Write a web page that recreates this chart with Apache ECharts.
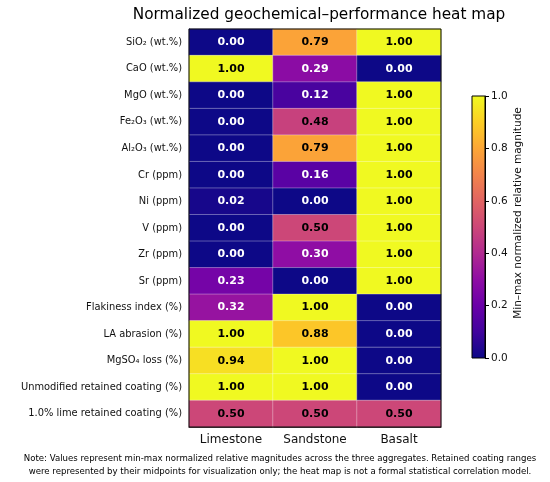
<!DOCTYPE html>
<html>
<head>
<meta charset="utf-8">
<script src="https://cdn.jsdelivr.net/npm/echarts@6/dist/echarts.min.js"></script>
<style>
html,body{margin:0;padding:0;background:#fff;}
#chart{width:550px;height:482px;}
</style>
</head>
<body>
<div id="chart"></div>
<script>
// aggregates (columns)
var aggregates = ["Limestone", "Sandstone", "Basalt"];
// properties (rows, top to bottom)
var properties = [
	"SiO₂ (wt.%)", "CaO (wt.%)", "MgO (wt.%)", "Fe₂O₃ (wt.%)", "Al₂O₃ (wt.%)",
	"Cr (ppm)", "Ni (ppm)", "V (ppm)", "Zr (ppm)", "Sr (ppm)",
	"Flakiness index (%)", "LA abrasion (%)", "MgSO₄ loss (%)",
	"Unmodified retained coating (%)", "1.0% lime retained coating (%)"
];
// normalized values per aggregate, same order as properties
var limestone = [0.00, 1.00, 0.00, 0.00, 0.00, 0.00, 0.02, 0.00, 0.00, 0.23, 0.32, 1.00, 0.94, 1.00, 0.50];
var sandstone = [0.79, 0.29, 0.12, 0.48, 0.79, 0.16, 0.00, 0.50, 0.30, 0.00, 1.00, 0.88, 1.00, 1.00, 0.50];
var basalt    = [1.00, 0.00, 1.00, 1.00, 1.00, 1.00, 1.00, 1.00, 1.00, 1.00, 0.00, 0.00, 0.00, 0.00, 0.50];
var colorbarTicks = [0.0, 0.2, 0.4, 0.6, 0.8, 1.0];

// plasma colormap
var plasma = ["#0d0887","#41049d","#6a00a8","#8f0da4","#b12a90","#cc4778","#e16462","#f2844b","#fca636","#fcce25","#f0f921"];

var columns = [limestone, sandstone, basalt];
var cells = [];
for (var c = 0; c < columns.length; c++) {
	for (var r = 0; r < properties.length; r++) {
		var v = columns[c][r];
		cells.push({
			value: [c, r, v],
			label: { color: v < 0.4 ? "#ffffff" : "#000000" }
		});
	}
}

// gradient for the colour bar (bottom = 0, top = 1)
var stops = [];
for (var i = 0; i < plasma.length; i++) {
	stops.push({ offset: 1 - i / (plasma.length - 1), color: plasma[i] });
}

var font = "DejaVu Sans";
var myChart = echarts.init(document.getElementById("chart"));
var option = {
	animation: false,
	backgroundColor: "#ffffff",
	textStyle: { fontFamily: font },
	title: [{
		text: "Normalized geochemical–performance heat map",
		left: 314, top: 3, textAlign: "center",
		textStyle: { fontFamily: font, fontSize: 15.3, fontWeight: "normal", color: "#000" }
	}, {
		text: "Note: Values represent min-max normalized relative magnitudes across the three aggregates. Retained coating ranges\nwere represented by their midpoints for visualization only; the heat map is not a formal statistical correlation model.",
		left: 275, top: 447, textAlign: "center",
		textStyle: { fontFamily: font, fontSize: 8.6, fontWeight: "normal", color: "#000", lineHeight: 13 }
	}],
	visualMap: {
		show: false, min: 0, max: 1, dimension: 2, seriesIndex: 0,
		inRange: { color: plasma }
	},
	grid: [
		{ left: 189, top: 29, width: 252, height: 398, show: true, borderColor: "#000", borderWidth: 1, z: 5 },
		{ left: 472, top: 96, width: 13, height: 262, show: true, borderColor: "#000", borderWidth: 1, z: 5 }
	],
	xAxis: [{
		gridIndex: 0, type: "category", data: aggregates,
		axisLine: { lineStyle: { color: "#000" } },
		axisTick: { alignWithLabel: true, length: 4, lineStyle: { color: "#000" } },
		axisLabel: { color: "#111", fontSize: 12, margin: 7, fontFamily: font, interval: 0 },
		splitLine: { show: false }
	}, {
		gridIndex: 1, type: "category", data: [""],
		axisLine: { show: false }, axisTick: { show: false }, axisLabel: { show: false }
	}],
	yAxis: [{
		gridIndex: 0, type: "category", data: properties, inverse: true,
		axisLine: { lineStyle: { color: "#000" } },
		axisTick: { alignWithLabel: true, length: 4, lineStyle: { color: "#000" } },
		axisLabel: { color: "#111", fontSize: 9.9, margin: 7, fontFamily: font, interval: 0 },
		splitLine: { show: false }
	}, {
		gridIndex: 1, type: "value", min: 0, max: 1, interval: 0.2, position: "right",
		name: "Min–max normalized relative magnitude",
		nameLocation: "middle", nameRotate: 90, nameGap: 28,
		nameTextStyle: { fontSize: 10.5, color: "#111", fontFamily: font, padding: [0, 0, 0, 28] },
		axisLine: { show: true, lineStyle: { color: "#000" } },
		axisTick: { show: true, length: 4, lineStyle: { color: "#000" } },
		axisLabel: {
			color: "#111", fontSize: 10.5, margin: 6, fontFamily: font,
			formatter: function (v) { return colorbarTicks.indexOf(Math.round(v * 10) / 10) >= 0 ? v.toFixed(1) : ""; }
		},
		splitLine: { show: false }
	}],
	series: [{
		type: "heatmap", xAxisIndex: 0, yAxisIndex: 0,
		data: cells,
		itemStyle: { borderColor: "rgba(255,255,255,0.55)", borderWidth: 0.6 },
		label: {
			show: true, fontSize: 11, fontWeight: "bold", fontFamily: font,
			formatter: function (p) { return p.value[2].toFixed(2); }
		},
		emphasis: { disabled: true }
	}, {
		type: "bar", xAxisIndex: 1, yAxisIndex: 1,
		data: [1], barWidth: "100%", silent: true,
		itemStyle: { color: { type: "linear", x: 0, y: 0, x2: 0, y2: 1, colorStops: stops } }
	}]
};
myChart.setOption(option);
</script>
</body>
</html>
